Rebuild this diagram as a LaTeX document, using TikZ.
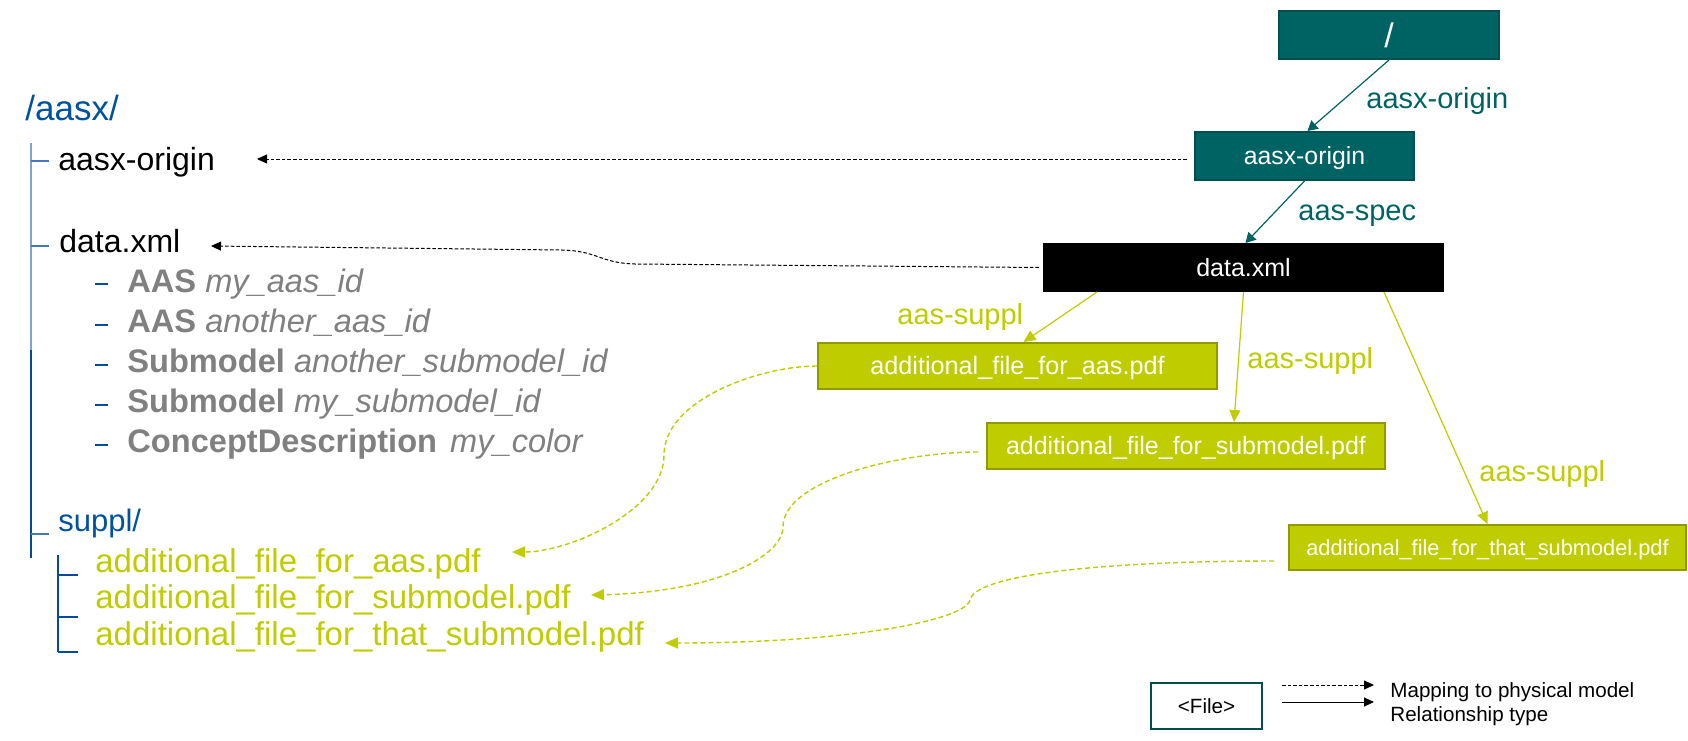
\documentclass[tikz,border=0pt]{standalone}
\usepackage{fontspec}
\setmainfont{Liberation Sans}
\usetikzlibrary{arrows.meta,calc}
\definecolor{tealF}{RGB}{0,99,99}
\definecolor{tealB}{RGB}{0,78,78}
\definecolor{ygreen}{RGB}{191,205,0}
\definecolor{ygreenB}{RGB}{143,154,0}
\definecolor{itemgrey}{RGB}{128,128,128}
\definecolor{aasblue}{RGB}{0,82,158}
\definecolor{treelight}{RGB}{125,163,211}
\definecolor{treemid}{RGB}{70,120,190}
\definecolor{treedark}{RGB}{0,75,155}
\newcommand\fsz[1]{\fontsize{#1}{#1}\selectfont}
\newcommand\lbox{\rule[-0.2em]{0pt}{1.1em}}
\begin{document}
\begin{tikzpicture}[x=0.5pt,y=-0.5pt,
  filebox/.style={draw,line width=1pt,inner sep=0pt,text=white},
  tealbox/.style={filebox,fill=tealF,draw=tealB},
  greenbox/.style={filebox,fill=ygreen,draw=ygreenB},
  treetext/.style={anchor=base west,inner sep=0pt},
  itemtext/.style={treetext,text=itemgrey,font=\fsz{16.3pt}},
  filetext/.style={treetext,text=ygreen,font=\fsz{16.5pt}},
  lbl/.style={anchor=base west,inner sep=0pt,font=\fsz{14.5pt}},
  tealarrow/.style={draw=tealF,line width=0.6pt,-{Triangle[length=5pt,width=5.5pt]}},
  greenarrow/.style={draw=ygreen,line width=0.6pt,-{Triangle[length=6pt,width=5.5pt]}},
  mapblack/.style={draw=black,line width=0.5pt,dash pattern=on 1.8pt off 1pt,-{Triangle[length=5pt,width=4.5pt]}},
  relblack/.style={draw=black,line width=0.5pt,-{Triangle[length=5pt,width=4.5pt]}},
  mapgreen/.style={draw=ygreen,line width=0.7pt,dash pattern=on 2.5pt off 1.5pt,-{Triangle[length=6.5pt,width=5.5pt]}},
  treeline/.style={line width=0.75pt}
]
\useasboundingbox (0,0) rectangle (1688,740);
\fill[white] (0,0) rectangle (1688,740);

% ---------- tree (physical model) ----------
\draw[treeline,treelight] (31,143) -- (31,350);
\draw[treeline,treedark] (31,350) -- (31,558);
\draw[treeline,treemid] (31,161) -- (49,161);
\draw[treeline,treemid] (31,246) -- (49,246);
\draw[treeline,treemid] (31,534) -- (49,534);
\foreach \yy in {284,325,365,405,445} \draw[treeline,treedark] (95,\yy) -- (108,\yy);
\draw[treeline,treedark] (58,555) -- (58,652);
\foreach \yy in {575,617,652} \draw[treeline,treedark] (58,\yy) -- (78,\yy);

\node[treetext,text=aasblue,font=\fsz{17.5pt}] (troot) at (25,120) {/aasx/};
\node[treetext,font=\fsz{16pt}] (torigin) at (58,170) {aasx-origin};
\node[treetext,font=\fsz{16pt}] (tdata) at (59,252) {data.xml};
\node[itemtext] (ti1) at (127,292) {\textbf{AAS} \textit{my\_aas\_id}};
\node[itemtext] (ti2) at (127,332) {\textbf{AAS} \textit{another\_aas\_id}};
\node[itemtext] (ti3) at (127,372) {\textbf{Submodel} \textit{another\_submodel\_id}};
\node[itemtext] (ti4) at (127,412) {\textbf{Submodel} \textit{my\_submodel\_id}};
\node[itemtext] (ti5) at (127,452) {\textbf{ConceptDescription}\hspace{2pt} \textit{my\_color}};
\node[treetext,text=aasblue,font=\fsz{15.5pt}] (tsuppl) at (58,531) {suppl/};
\node[filetext] (tf1) at (95,572) {additional\_file\_for\_aas.pdf};
\node[filetext] (tf2) at (95,608) {additional\_file\_for\_submodel.pdf};
\node[filetext] (tf3) at (95,645) {additional\_file\_for\_that\_submodel.pdf};

% ---------- logical model boxes ----------
\node[tealbox,minimum width=110pt,minimum height=24pt,font=\fsz{17pt}] (root) at (1389,35) {/};
\node[tealbox,minimum width=109.5pt,minimum height=24pt,font=\fsz{12.4pt}] (origin) at (1304.5,156) {\lbox aasx-origin};
\node[filebox,fill=black,draw=black,minimum width=199.5pt,minimum height=23.5pt,font=\fsz{12.5pt}] (data) at (1243.5,267.5) {\lbox data.xml};
\node[greenbox,minimum width=199.5pt,minimum height=23pt,font=\fsz{12.6pt}] (aasf) at (1017.5,366) {\lbox additional\_file\_for\_aas.pdf};
\node[greenbox,minimum width=199pt,minimum height=23pt,font=\fsz{12.5pt}] (subf) at (1186,446) {\lbox additional\_file\_for\_submodel.pdf};
\node[greenbox,minimum width=198.5pt,minimum height=22.5pt,font=\fsz{10.9pt}] (thatf) at (1487.5,547.5) {\lbox additional\_file\_for\_that\_submodel.pdf};

% ---------- relationships ----------
\draw[tealarrow] (root.south) -- ($(origin.north)+(3,0)$);
\draw[tealarrow] (origin.south) -- ($(data.north)+(2,0)$);
\node[lbl,text=tealF] (lroot) at (1366,108) {aasx-origin};
\node[lbl,text=tealF] (lspec) at (1298,220) {aas-spec};

\draw[greenarrow] ($(data.south west)+(54,0)$) -- ($(aasf.north)+(6,0)$);
\draw[greenarrow] (data.south) -- ($(subf.north)+(48,0)$);
\draw[greenarrow] ($(data.south east)+(-60,0)$) -- (thatf.north);
\node[lbl,text=ygreen] (ls1) at (897,324) {aas-suppl};
\node[lbl,text=ygreen] (ls2) at (1247,368) {aas-suppl};
\node[lbl,text=ygreen] (ls3) at (1479,481) {aas-suppl};

% ---------- mappings to physical model ----------
\coordinate (tipO) at (257,159);
\coordinate (tipD) at (211,246);
\coordinate (tipA) at (512,552);
\coordinate (tipB) at (591,595);
\coordinate (tipC) at (665,643);
\draw[mapblack] ([xshift=-3.5pt,yshift=-1.5pt]origin.west) -- (tipO);
\draw[mapblack] ([xshift=-2pt]data.west) -- (635,264) .. controls (600,263) and (598,251) .. (562,250) -- (tipD);
\draw[mapgreen] (aasf.west) .. controls (760,366) and (664,400) .. (664,455) .. controls (664,510) and (570,552) .. (tipA);
\draw[mapgreen] ([xshift=-4pt,yshift=-3pt]subf.west) .. controls (900,452) and (783,480) .. (783,527) .. controls (783,555) and (720,592) .. (tipB);
\draw[mapgreen] ([xshift=-7pt,yshift=-6.75pt]thatf.west) .. controls (1100,561) and (975,575) .. (970,600) .. controls (966,620) and (850,643) .. (tipC);

% ---------- legend ----------
\node[draw=tealB,line width=1pt,fill=white,inner sep=0pt,minimum width=55.5pt,minimum height=23pt,font=\fsz{10.3pt}] (legbox) at (1206.5,706) {\lbox <File>};
\coordinate (lgA1) at (1282,685);
\coordinate (lgA2) at (1374,685);
\coordinate (lgB1) at (1282,702);
\coordinate (lgB2) at (1374,702);
\draw[mapblack] (lgA1) -- (lgA2);
\draw[relblack] (lgB1) -- (lgB2);
\node[lbl,font=\fsz{10.3pt}] (lgmap) at (1390,697) {Mapping to physical model};
\node[lbl,font=\fsz{10.3pt}] (lgrel) at (1390,721) {Relationship type};
\end{tikzpicture}
\end{document}
